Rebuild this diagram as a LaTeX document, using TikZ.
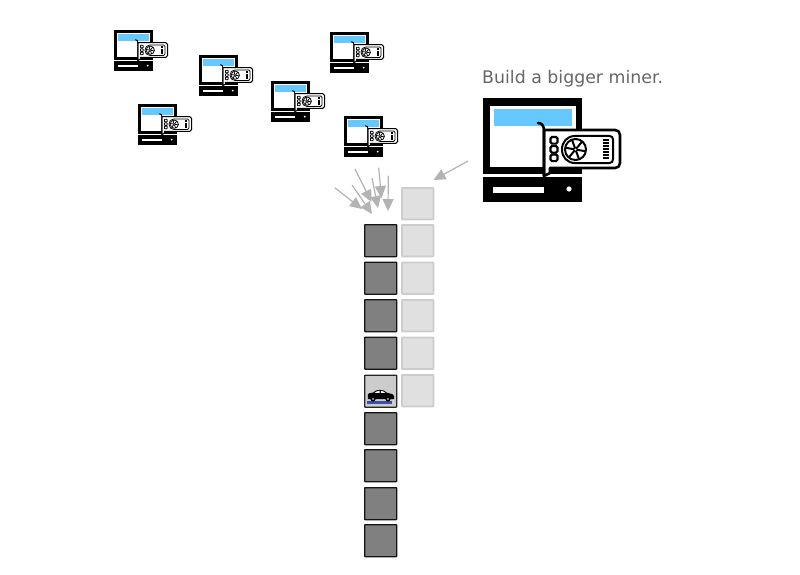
\documentclass[tikz,border=0pt]{standalone}
\usepackage{fontspec}
\setmainfont{DejaVu Sans}
\usetikzlibrary{arrows.meta}
\definecolor{skyb}{HTML}{66C8FF}
\definecolor{arrowgray}{HTML}{B3B3B3}
\definecolor{roadblue}{HTML}{3B4FA8}
\colorlet{darkedge}{black!92}
\colorlet{caredge}{black!85}
\tikzset{
  block/.style={draw=#1,line width=1.3pt,minimum size=32pt,inner sep=0pt,anchor=north west,rounded corners=0.6pt},
  darkblock/.style={block=darkedge,fill=black!50},
  carblock/.style={block=caredge,fill=black!20},
  lightblock/.style={draw=black!20,line width=1.8pt,minimum size=31.5pt,inner sep=0pt,anchor=north west,fill=black!12,rounded corners=0.6pt},
  feed/.style={draw=arrowgray,line width=1.2pt,-{Triangle[length=12pt,width=11pt]}},
}
\newcommand{\minericon}[3]{%
\begin{scope}[shift={(#1,#2)},x=#3pt,y=-#3pt]
  \fill[black] (0,0) rectangle (99,76);
  \fill[white] (7,8) rectangle (93,69);
  \fill[skyb] (11,11) rectangle (89,28);
  \fill[black] (0,79) rectangle (99,104);
  \fill[white] (10,89) rectangle (61,95);
  \fill[white] (86,91) circle (2.6);
  \filldraw[fill=white,draw=black,line width=#3*2.6pt,line join=round]
     (61,32) -- (132,32) .. controls (135,32) and (137,34) .. (137,37)
     -- (137,65) .. controls (137,68) and (135,70) .. (132,70) -- (67,70) -- (67,75) -- (61,78) -- cycle;
  \draw[black,line width=#3*2.6pt,line cap=round] (61,78) -- (61,33) .. controls (61,28) and (59,25) .. (55,25);
  \foreach \yy in {39,48,56.5}{\draw[black,line width=#3*2.2pt,rounded corners=#3*1.5pt] (67.5,\yy) rectangle ++(7,6.6);}
  \draw[black,line width=#3*2pt] (92,38) -- (126.5,38) .. controls (129,38) and (130,39.5) .. (130,41.5)
     -- (130,61) .. controls (130,63.5) and (129,65) .. (126.5,65) -- (92,65)
     .. controls (84,65) and (79,59) .. (79,51.5) .. controls (79,44) and (84,38) .. (92,38) -- cycle;
  \draw[black,line width=#3*2pt] (92.5,51.5) circle (10.5);
  \foreach \aa in {10,70,...,310}{\draw[black,line width=#3*2pt] (92.5,51.5) -- ++(\aa:10);}
  \fill[white] (92.5,51.5) circle (1.2);
  \foreach \yy in {42,45,48,51,54,57,60}{\draw[black,line width=#3*1.6pt] (120,\yy) -- (125.5,\yy);}
\end{scope}}
\begin{document}
\begin{tikzpicture}[x=1pt,y=-1pt]
\useasboundingbox (0,0) rectangle (800,575);
% small miners
\minericon{114}{30}{0.392}
\minericon{199}{55}{0.392}
\minericon{271}{81}{0.392}
\minericon{330}{32}{0.392}
\minericon{344}{116}{0.392}
\minericon{138}{104}{0.392}
% big miner
\minericon{483}{98}{1}
\node[anchor=base west,inner sep=0pt,text=black!60,font=\fontsize{17.35}{20}\selectfont] (lbl) at (482,84) {Build a bigger miner.};
% chain
\node[darkblock] (d1) at (364,224) {};
\node[darkblock] (d2) at (364,261.5) {};
\node[darkblock] (d3) at (364,299) {};
\node[darkblock] (d4) at (364,336.5) {};
\node[carblock]  (c)  at (364,374.5) {};
\node[darkblock] (d5) at (364,412) {};
\node[darkblock] (d6) at (364,449) {};
\node[darkblock] (d7) at (364,487) {};
\node[darkblock] (d8) at (364,524) {};
\node[lightblock] (l0) at (401,187) {};
\node[lightblock] (l1) at (401,224) {};
\node[lightblock] (l2) at (401,261.5) {};
\node[lightblock] (l3) at (401,299) {};
\node[lightblock] (l4) at (401,336.5) {};
\node[lightblock] (l5) at (401,374) {};
% car
\fill[roadblue] (367,401) rectangle (392,403.8);
\fill[black] (367.8,394.5) .. controls (368,393.2) and (370,393) .. (373,392.6)
  .. controls (375,390.6) and (377,389.8) .. (380,389.8) .. controls (383,389.8) and (385,390.8) .. (387,392.8)
  .. controls (390,393.2) and (393.5,394) .. (394,396) -- (394,399) -- (368,399) -- cycle;
\fill[black] (373,399) circle (2.6) (388,399) circle (2.6);
\fill[white] (374.6,392.8) .. controls (376,391.4) and (378,390.9) .. (379.6,390.9) -- (379.6,392.8) -- cycle
  (380.8,390.9) .. controls (382.5,390.9) and (384,391.5) .. (385.2,392.8) -- (380.8,392.8) -- cycle;
\fill[white] (373,399) circle (0.8) (388,399) circle (0.8);
% arrows
\coordinate (a1s) at (334.7,187.7); \coordinate (a1e) at (362,209);
\coordinate (a2s) at (352,185); \coordinate (a2e) at (372,214);
\coordinate (a3s) at (355,169); \coordinate (a3e) at (371.5,202);
\coordinate (a4s) at (372,178); \coordinate (a4e) at (378,208);
\coordinate (a5s) at (378.7,167.7); \coordinate (a5e) at (381.5,198);
\coordinate (a6s) at (388.3,175.7); \coordinate (a6e) at (388,211);
\coordinate (a7s) at (468,161); \coordinate (a7e) at (433.5,180);
\foreach \i in {1,...,7}{\draw[feed] (a\i s) -- (a\i e);}
\end{tikzpicture}
\end{document}
